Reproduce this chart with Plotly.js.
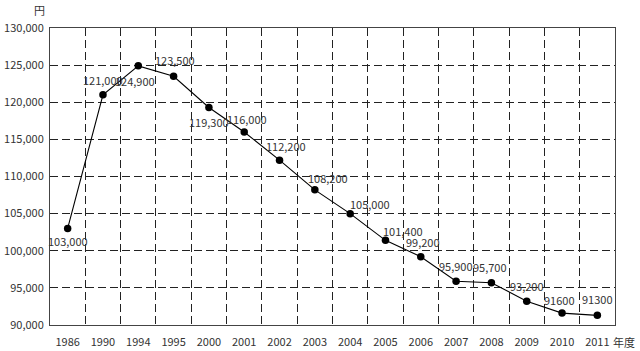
<!DOCTYPE html>
<html><head><meta charset="utf-8">
<script src="https://cdn.plot.ly/plotly-3.0.1.min.js"></script>
<style>html,body{margin:0;padding:0;background:#fff}#c{width:640px;height:351px}</style>
</head><body><div id="c"></div>
<script>
const years = ['1986','1990','1994','1995','2000','2001','2002','2003','2004','2005','2006','2007','2008','2009','2010','2011'];
const values = [103000,121000,124900,123500,119300,116000,112200,108200,105000,101400,99200,95900,95700,93200,91600,91300];
const labels = ['103,000','121,000','124,900','123,500','119,300','116,000','112,200','108,200','105,000','101,400','99,200','95,900','95,700','93,200','91600','91300'];
// label placement offsets (pixels) relative to each point
const labelDx = [0,0,-3,1,0,3,6,13,20,18,2,0,-1,0,-3,0];
const labelDy = [-13,15,-15,16,-15,13,14,12,10,9,15,15,16,15,13,16];
const yTicks = [90000,95000,100000,105000,110000,115000,120000,125000,130000];
const yTickText = ['90,000','95,000','100,000','105,000','110,000','115,000','120,000','125,000','130,000'];

const font = 'Noto Sans CJK JP, DejaVu Sans, sans-serif';
const txt = '#333';
const ann = years.map((y, i) => ({
  x: i, y: values[i], xref: 'x', yref: 'y', text: labels[i], showarrow: false,
  xanchor: 'center', yanchor: 'middle', xshift: labelDx[i], yshift: labelDy[i],
  font: {family: font, size: 11, color: txt}
}));
ann.push({text: '円', xref: 'paper', yref: 'paper', x: -0.018, y: 1.06, xanchor: 'center', yanchor: 'middle', showarrow: false, font: {family: font, size: 11, color: txt}});
ann.push({text: '年度', xref: 'paper', yref: 'paper', x: 1.016, y: -0.057, xanchor: 'center', yanchor: 'middle', showarrow: false, font: {family: font, size: 11, color: txt}});

Plotly.newPlot('c', [{
  x: years, y: values, type: 'scatter', mode: 'lines+markers',
  line: {color: '#000', width: 1.1},
  marker: {color: '#000', size: 7.5},
  cliponaxis: false, hoverinfo: 'none'
}], {
  width: 640, height: 351,
  margin: {l: 50, r: 25, t: 28, b: 26},
  paper_bgcolor: '#fff', plot_bgcolor: '#fff',
  showlegend: false,
  font: {family: font, size: 11, color: txt},
  xaxis: {
    type: 'category', range: [-0.5, 15.5], tickson: 'boundaries', ticks: '',
    showgrid: true, gridcolor: '#222', griddash: '8px,4px', gridwidth: 1,
    showline: true, mirror: true, linecolor: '#444', linewidth: 1,
    ticklabelstandoff: 7,
    tickfont: {family: font, size: 11, color: txt}, zeroline: false
  },
  yaxis: {
    range: [90000, 130000], tickvals: yTicks, ticktext: yTickText, ticks: '',
    showgrid: true, gridcolor: '#222', griddash: '8px,4px', gridwidth: 1,
    showline: true, mirror: true, linecolor: '#444', linewidth: 1,
    ticklabelstandoff: 3,
    tickfont: {family: font, size: 11, color: txt}, zeroline: false
  },
  annotations: ann
}, {staticPlot: true});
</script></body></html>
